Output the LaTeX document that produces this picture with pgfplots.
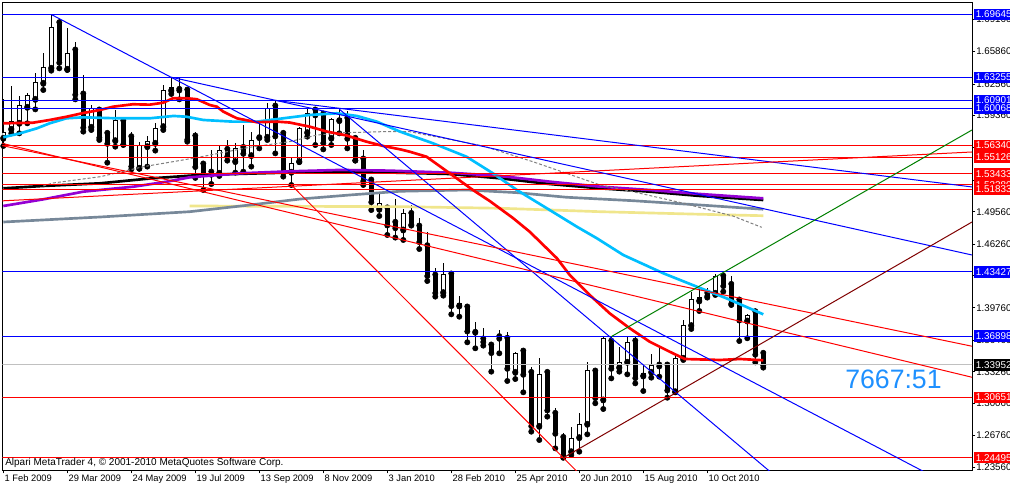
\documentclass[border=0pt]{standalone}
\usepackage{pgfplots}
\usepackage{pgfplotstable}
\pgfplotsset{compat=1.18}
\usepackage{fontspec}
\setmainfont{Liberation Sans}

\definecolor{mtblue}{RGB}{0,0,255}
\definecolor{mtred}{RGB}{255,0,0}
\definecolor{mtcyan}{RGB}{0,191,255}
\definecolor{mtpurple}{RGB}{148,0,211}
\definecolor{mtgrey}{RGB}{119,136,153}
\definecolor{mtkhaki}{RGB}{240,230,140}
\definecolor{mtmaroon}{RGB}{128,0,0}
\definecolor{mtgreen}{RGB}{0,128,0}
\definecolor{mtsilver}{RGB}{192,192,192}
\definecolor{mtdodger}{RGB}{30,144,255}

% weekly bars, x = week index from 1 Feb 2009
\pgfplotstableread{
x  O      H       L      C
0  1.5703 1.6100  1.5625 1.5761
1  1.5795 1.6236  1.5754 1.5873
2  1.5856 1.6134  1.5754 1.6036
3  1.6019 1.6161  1.5856 1.6141
4  1.6100 1.6365  1.5998 1.6273
5  1.6263 1.6569  1.6195 1.6426
6  1.6416 1.6964  1.6392 1.6833
7  1.6881 1.6915  1.6416 1.6477
8  1.6406 1.6823  1.6399 1.6569
9  1.6603 1.6688  1.6100 1.6151
10 1.6155 1.6348  1.5771 1.5815
11 1.5815 1.6043  1.5788 1.6009
12 1.5992 1.6026  1.5686 1.5713
13 1.5754 1.5781  1.5455 1.5652
14 1.5679 1.5992  1.5618 1.5880
15 1.5880 1.5880  1.5635 1.5645
16 1.5720 1.5771  1.5387 1.5421
17 1.5398 1.5669  1.5394 1.5625
18 1.5618 1.5727  1.5415 1.5669
19 1.5652 1.5856  1.5578 1.5805
20 1.5822 1.6246  1.5788 1.6195
21 1.6189 1.63255 1.6155 1.6216
22 1.6202 1.6314  1.6100 1.6195
23 1.6195 1.6229  1.5669 1.5693
24 1.5727 1.5771  1.5300 1.5415
25 1.5442 1.5466  1.5177 1.5340
26 1.5360 1.5584  1.5238 1.5337
27 1.5347 1.5635  1.5320 1.5584
28 1.5591 1.5686  1.5476 1.5523
29 1.5466 1.5652  1.5354 1.5601
30 1.5611 1.5839  1.5364 1.5550
31 1.5527 1.5771  1.5415 1.5676
32 1.5710 1.5856  1.5601 1.5720
33 1.5713 1.6060  1.5686 1.6009
34 1.6032 1.6090  1.5550 1.5727
35 1.5754 1.5788  1.5313 1.5357
36 1.5357 1.5516  1.5228 1.5442
37 1.5466 1.5822  1.5462 1.5805
38 1.5761 1.6009  1.5720 1.5951
39 1.5992 1.6009  1.5635 1.5941
40 1.5951 1.5975  1.5591 1.5659
41 1.5703 1.5907  1.5635 1.5897
42 1.5883 1.6000  1.5754 1.5907
43 1.5907 1.5985  1.5601 1.5703
44 1.5703 1.5720  1.5476 1.5482
45 1.5493 1.5584  1.5228 1.5272
46 1.5279 1.5306  1.4973 1.5058
47 1.4980 1.5143  1.4912 1.5041
48 1.4995 1.5024  1.4719 1.4821
49 1.4848 1.5085  1.4692 1.4793
50 1.4770 1.4984  1.4668 1.4939
51 1.4939 1.5024  1.4814 1.4827
52 1.4810 1.4889  1.4576 1.4651
53 1.4610 1.4746  1.4250 1.4305
54 1.4311 1.4379  1.4091 1.4132
55 1.4132 1.4430  1.4101 1.4318
56 1.4322 1.4328  1.3911 1.3999
57 1.3996 1.4101  1.3887 1.4023
58 1.3986 1.4006  1.3626 1.3741
59 1.3728 1.3829  1.3565 1.3751
60 1.3660 1.3768  1.3592 1.3633
61 1.3599 1.3633  1.3327 1.3521
62 1.3684 1.3751  1.3514 1.3667
63 1.3667 1.3734  1.3232 1.3361
64 1.3320 1.3531  1.3252 1.3514
65 1.3537 1.3537  1.3117 1.3300
66 1.3320 1.3378  1.2716 1.2777
67 1.2770 1.3463  1.2631 1.3300
68 1.3320 1.3334  1.2869 1.2937
69 1.2903 1.2954  1.2546 1.2699
70 1.2658 1.2699  1.2450 1.2461
71 1.2512 1.2767  1.2478 1.2648
72 1.2655 1.2903  1.2512 1.2791
73 1.2791 1.3422  1.2689 1.3334
74 1.3334 1.3344  1.3005 1.3062
75 1.3039 1.3684  1.2947 1.3667
76 1.3639 1.3684  1.3259 1.3361
77 1.3368 1.3582  1.3327 1.3422
78 1.3422 1.3684  1.3300 1.3626
79 1.3639 1.3684  1.3208 1.3266
80 1.3283 1.3395  1.3130 1.3307
81 1.3320 1.3504  1.3266 1.3388
82 1.3395 1.3571  1.3276 1.3385
83 1.3395 1.3402  1.3062 1.3140
84 1.3123 1.3497  1.3117 1.3463
85 1.3463 1.3853  1.3446 1.3802
86 1.3796 1.4135  1.3762 1.4057
87 1.4047 1.4176  1.3945 1.4081
88 1.4125 1.4176  1.4081 1.4101
89 1.4125 1.4318  1.4108 1.4294
90 1.4301 1.4345  1.4142 1.4203
91 1.4216 1.4305  1.4006 1.4023
92 1.4057 1.4074  1.3639 1.3853
93 1.3843 1.3911  1.3667 1.3894
94 1.3938 1.3955  1.3422 1.3504
95 1.3514 1.3524  1.3368 1.3395
}\candles

\newcommand\levelline[2]{\addplot[#1, line width=0.75pt, forget plot] coordinates {(-1,#2) (122,#2)};}
\newcommand\lvl[3]{\node[fill=#1, text=white, anchor=west, inner xsep=1.2pt, inner ysep=0pt,
  minimum height=8.4pt, font=\fontsize{7.4}{8}\selectfont] at ([xshift=1.5pt]axis cs:121.09,#2) {#3};}

\begin{document}
\begin{tikzpicture}
\useasboundingbox (-1.875pt,-12.75pt) rectangle (755.625pt,352.5pt);
\fill[white] (-1.875pt,-12.75pt) rectangle (755.625pt,352.5pt);
\begin{axis}[
  at={(0pt,0pt)}, anchor=south west,
  scale only axis, width=727.125pt, height=350.625pt,
  xmin=-0.1, xmax=121.09, ymin=1.23256, ymax=1.70863,
  clip mode=individual,
  axis line style={line width=0.75pt, black},
  tick align=outside, major tick length=2.5pt,
  tick style={black, line width=0.75pt},
  xtick pos=bottom, ytick pos=right, yticklabel pos=right,
  xtick={0,8,...,88},
  xticklabels={1 Feb 2009,29 Mar 2009,24 May 2009,19 Jul 2009,13 Sep 2009,8 Nov 2009,3 Jan 2010,28 Feb 2010,25 Apr 2010,20 Jun 2010,15 Aug 2010,10 Oct 2010},
  ytick={1.69160,1.65860,1.62560,1.59360,1.56060,1.52760,1.49560,1.46260,1.43060,1.39760,1.36460,1.33260,1.30060,1.26760,1.23560},
  yticklabels={1.69160,1.65860,1.62560,1.59360,1.56060,1.52760,1.49560,1.46260,1.43060,1.39760,1.36460,1.33260,1.30060,1.26760,1.23560},
  xticklabel style={anchor=north west, inner sep=0pt, xshift=0.8pt, yshift=-1pt, font=\fontsize{7}{8}\selectfont},
  yticklabel style={anchor=west, inner sep=0pt, xshift=0.5pt, font=\fontsize{7.3}{8}\selectfont},
]
% wicks
\addplot[only marks, mark=none, forget plot,
  error bars/.cd, y dir=plus, y explicit, error mark=none,
  error bar style={draw=black, line width=0.75pt}]
  table[x=x, y expr=\thisrow{L}, y error plus expr=\thisrow{H}-\thisrow{L}] {\candles};
% bodies (outline / bearish fill)
\addplot[only marks, mark=none, forget plot,
  error bars/.cd, y dir=plus, y explicit, error mark=none,
  error bar style={draw=black, line width=3.75pt}]
  table[x=x, y expr={min(\thisrow{O},\thisrow{C})-0.0005}, y error plus expr={abs(\thisrow{C}-\thisrow{O})+0.001}] {\candles};
% bullish interiors
\addplot[only marks, mark=none, forget plot,
  error bars/.cd, y dir=plus, y explicit, error mark=none,
  error bar style={draw=white, line width=2.25pt}]
  table[x=x, y expr={\thisrow{O}+0.0005}, y error plus expr={max(\thisrow{C}-\thisrow{O}-0.001,0)}] {\candles};

% moving averages
\addplot[mtkhaki, line width=2pt] coordinates {
 (23.3,1.5014) (35.8,1.5011) (49.6,1.5007) (62.1,1.4991) (74.6,1.4956) (87.1,1.4930) (95.0,1.4915)};
\addplot[mtgrey, line width=2pt] coordinates {
 (0,1.4851) (12.1,1.4902) (23.3,1.4956) (30.8,1.5024) (37.1,1.5085) (43.3,1.5126) (49.6,1.5164)
 (57.9,1.5177) (64.2,1.5150) (70.4,1.5103) (78.7,1.5068) (87.1,1.5024) (95.0,1.4981)};
\addplot[black, line width=2pt] coordinates {
 (0,1.5194) (5.0,1.5218) (12.1,1.5245) (18.3,1.5294) (24.6,1.5330) (35.8,1.5355) (48.3,1.5355)
 (55.8,1.5340) (62.1,1.5296) (68.3,1.5238) (74.6,1.5194) (80.8,1.5160) (87.1,1.5116) (95.0,1.5075)};
\addplot[mtpurple, line width=2pt] coordinates {
 (0,1.5014) (5.0,1.5082) (10.0,1.5160) (16.3,1.5211) (20.4,1.5261) (23.3,1.5306) (29.6,1.5347)
 (35.8,1.5367) (42.1,1.5381) (48.3,1.5374) (55.8,1.5353) (62.1,1.5320) (68.3,1.5262) (74.6,1.5211)
 (80.8,1.5177) (87.1,1.5136) (95.0,1.5092)};
\addplot[gray, line width=0.75pt, dash pattern=on 2.25pt off 1.5pt] coordinates {
 (5.0,1.5218) (6.2,1.5248) (12.1,1.5312) (17.5,1.5414) (21.2,1.5465) (24.6,1.5513) (30.8,1.5612)
 (35.8,1.5669) (39.2,1.5737) (42.5,1.5760) (47.5,1.5771) (50.8,1.5771) (60.0,1.5625) (66.2,1.5465)
 (70.4,1.5347) (74.6,1.5228) (78.7,1.5160) (85.0,1.5042) (91.2,1.4912) (94.8,1.4797)};
\addplot[mtcyan, line width=2pt] coordinates {
 (0,1.5714) (2.1,1.5754) (4.2,1.5805) (5.8,1.5856) (7.9,1.5907) (10.0,1.5917) (14.2,1.5907)
 (18.3,1.5907) (21.3,1.5931) (22.9,1.5923) (25.0,1.5890) (28.7,1.5873) (31.7,1.5873) (35.0,1.5907)
 (38.3,1.5941) (41.7,1.5958) (44.2,1.5931) (46.7,1.5873) (49.6,1.5771) (53.7,1.5653) (57.9,1.5516)
 (61.2,1.5347) (64.2,1.5177) (68.3,1.4973) (71.7,1.4803) (74.2,1.4685) (77.5,1.4515) (82.5,1.4329)
 (86.7,1.4192) (90.4,1.4074) (95.0,1.3911)};
\addplot[mtred, line width=2pt] coordinates {
 (0,1.5856) (3.7,1.5862) (5.8,1.5890) (7.9,1.5923) (10.0,1.5961) (12.1,1.5992) (13.7,1.6025)
 (16.2,1.6050) (18.3,1.6046) (20.0,1.6066) (21.2,1.6111) (23.0,1.6111) (24.2,1.6101) (25.8,1.6043)
 (26.7,1.6025) (27.5,1.5975) (29.2,1.5907) (31.7,1.5867) (34.2,1.5873) (35.8,1.5864) (38.3,1.5822)
 (40.4,1.5773) (42.9,1.5732) (45.4,1.5669) (47.5,1.5625) (49.6,1.5591) (50.8,1.5567) (52.9,1.5516)
 (55.8,1.5347) (58.7,1.5177) (60.8,1.5065) (63.7,1.4892) (65.8,1.4752) (69.2,1.4482) (70.8,1.4312)
 (73.3,1.4108) (75.8,1.3921) (78.3,1.3769) (80.8,1.3632) (83.3,1.3530) (85.2,1.3456) (89.6,1.3446)
 (92.1,1.3456) (95.0,1.3443)};

% horizontal levels
\levelline{mtsilver}{1.33952}
\levelline{mtblue}{1.69645}
\levelline{mtblue}{1.63255}
\levelline{mtblue}{1.60901}
\levelline{mtblue}{1.60068}
\levelline{mtblue}{1.43427}
\levelline{mtblue}{1.36898}
\levelline{mtred}{1.56340}
\levelline{mtred}{1.55126}
\levelline{mtred}{1.53433}
\levelline{mtred}{1.52280}
\levelline{mtred}{1.51833}
\levelline{mtred}{1.30651}
\levelline{mtred}{1.24495}

% trend lines
\addplot[mtblue, line width=0.75pt] coordinates {(6,1.6964) (121.09,1.2052)};
\addplot[mtblue, line width=0.75pt] coordinates {(21,1.63255) (121.09,1.4515)};
\addplot[mtblue, line width=0.75pt] coordinates {(34,1.6090) (121.09,1.5208)};
\addplot[mtblue, line width=0.75pt] coordinates {(42,1.6000) (95.6,1.2326) (100,1.2026)};
\addplot[mtred, line width=0.75pt] coordinates {(-0.5,1.5635) (121.09,1.3586)};
\addplot[mtred, line width=0.75pt] coordinates {(-0.5,1.5659) (121.09,1.3270)};
\addplot[mtred, line width=0.75pt] coordinates {(-0.5,1.5065) (121.09,1.5564)};
\addplot[mtred, line width=0.75pt] coordinates {(36,1.5228) (70,1.2450) (73,1.2205)};
\addplot[mtmaroon, line width=0.75pt] coordinates {(70,1.2450) (121.09,1.4851)};
\addplot[mtgreen, line width=0.75pt] coordinates {(76,1.3684) (121.09,1.5788)};

% texts
\node[anchor=base west, inner sep=0pt, font=\fontsize{7.5}{8}\selectfont] at (rel axis cs:0.0026,0.0086)
  {Alpari MetaTrader 4, © 2001-2010 MetaQuotes Software Corp.};
\node[anchor=base west, inner sep=0pt, text=mtdodger, font=\fontsize{20}{22}\selectfont] at (rel axis cs:0.869,0.1733) {7667:51};

% price labels
\lvl{mtblue}{1.69645}{1.69645}
\lvl{mtblue}{1.63255}{1.63255}
\lvl{mtblue}{1.60901}{1.60901}
\lvl{mtblue}{1.60068}{1.60068}
\lvl{mtred}{1.56340}{1.56340}
\lvl{mtred}{1.55126}{1.55126}
\lvl{mtred}{1.53433}{1.53433}
\lvl{mtred}{1.52280}{1.52280}
\lvl{mtred}{1.51833}{1.51833}
\lvl{mtblue}{1.43427}{1.43427}
\lvl{mtblue}{1.36898}{1.36898}
\lvl{black}{1.33952}{1.33952}
\lvl{mtred}{1.30651}{1.30651}
\lvl{mtred}{1.24495}{1.24495}
\end{axis}
\end{tikzpicture}
\end{document}
